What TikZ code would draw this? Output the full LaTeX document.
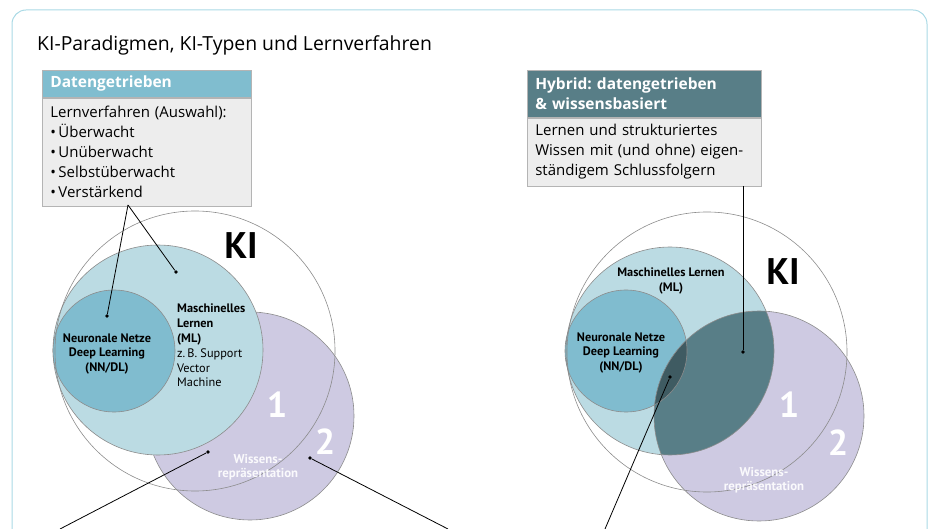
\documentclass[tikz,border=0pt]{standalone}
\usepackage{fontspec}
\setmainfont{Open Sans}
\newfontfamily\labelfont{PT Sans}
\usetikzlibrary{positioning}
\frenchspacing

\definecolor{framecol}{HTML}{A9D9E5}
\definecolor{ringgray}{HTML}{8C8C8C}
\definecolor{mlfill}{HTML}{BBDBE3}
\definecolor{nnfill}{HTML}{80BCCF}
\definecolor{wrfill}{HTML}{CECAE2}
\definecolor{headlight}{HTML}{80BDCF}
\definecolor{headdark}{HTML}{587E87}
\definecolor{hybdark}{HTML}{3F5B62}
\definecolor{bodyfill}{HTML}{EDEDED}
\definecolor{bodyline}{HTML}{B4B4B4}

\tikzset{
  boxhead/.style={rectangle, draw=bodyline, line width=0.6pt, text=white,
    font=\bfseries\fontsize{15.5}{20}\selectfont, text width=193pt,
    inner xsep=8pt, align=left},
  boxbody/.style={rectangle, draw=bodyline, line width=0.6pt, fill=bodyfill,
    font=\fontsize{15}{20}\selectfont, text width=193pt,
    inner xsep=8pt, align=left},
  ring/.style={draw=ringgray, line width=0.6pt},
  dot/.style={circle, fill=black, inner sep=0pt, minimum size=3.8pt},
  pointer/.style={black, line width=0.8pt},
  circlabel/.style={font=\labelfont\bfseries\fontsize{12.3}{14.8}\selectfont, align=center},
  bignum/.style={text=white, font=\labelfont\bfseries\fontsize{36}{36}\selectfont},
  kilabel/.style={font=\labelfont\bfseries\fontsize{37}{37}\selectfont},
  wrlabel/.style={text=white, text opacity=0.9, font=\labelfont\bfseries\fontsize{12.8}{14.5}\selectfont, align=center}
}

\begin{document}
\begin{tikzpicture}[x=1pt,y=-1pt]
  \useasboundingbox (0,0) rectangle (940,529);
  % frame and title
  \draw[framecol, line width=1pt, rounded corners=14pt] (12,10) rectangle (927,570);
  \node[anchor=west, font=\fontsize{19.4}{23}\selectfont, inner sep=0pt] (title) at (37,45) {KI-Paradigmen, KI-Typen und Lernverfahren};

  % left box
  \node[boxhead, fill=headlight, minimum height=27pt, anchor=north west] (lhead) at (42,70) {Datengetrieben};
  \node[boxbody, below=0pt of lhead, minimum height=108pt] (lbody)
    {Lernverfahren (Auswahl):\\ •\,Überwacht\\ •\,Unüberwacht\\ •\,Selbstüberwacht\\ •\,Verstärkend};

  % right box
  \node[boxhead, fill=headdark, minimum height=47pt, text width=218pt, anchor=north west] (rhead) at (527,70)
    {Hybrid: datengetrieben\\ \& wissensbasiert};
  \node[boxbody, below=0pt of rhead, minimum height=68pt, text width=218pt] (rbody)
    {Lernen und strukturiertes\\ Wissen mit (und ohne) eigen-\\ ständigem Schlussfolgern};

  % left circles
  \fill[wrfill] (250,416) circle (104pt);
  \draw[ring] (250,416) circle (104pt);
  \filldraw[ring, fill=mlfill] (158,350) circle (105pt);
  \filldraw[ring, fill=nnfill] (114,351) circle (61pt);
  \draw[ring] (195,351) circle (140pt);

  \node[kilabel] (lki) at (241,246) {KI};
  \node[circlabel] (lnn) at (107,354) {Neuronale Netze\\ Deep Learning\\ (NN/DL)};
  \node[circlabel, anchor=north west, align=left, inner sep=0pt] (lml) at (177,304)
    {Maschinelles\\ Lernen\\ (ML)\\ \mdseries z.\,B. Support\\ \mdseries Vector\\ \mdseries Machine};
  \node[bignum] (lone) at (277,405) {1};
  \node[bignum] (ltwo) at (325,442) {2};
  \node[wrlabel] (lwr) at (258,467) {Wissens-\\ repräsentation};

  % left pointers
  \node[dot] (ldotnn) at (107,316) {};
  \node[dot] (ldotml) at (176,272) {};
  \node[dot] (ldotki) at (208,452) {};
  \node[dot] (ldotwr) at (310,458) {};
  \coordinate (ljoin) at (128,205);
  \coordinate (lendki) at (60,529);
  \coordinate (lendwr) at (448,529);
  \draw[pointer] (ljoin) -- (ldotnn);
  \draw[pointer] (ljoin) -- (ldotml);
  \draw[pointer] (ldotki) -- (lendki);
  \draw[pointer] (ldotwr) -- (lendwr);

  % right circles
  \fill[wrfill] (759,416) circle (105pt);
  \fill[mlfill] (670,351) circle (104pt);
  \fill[nnfill] (626,351) circle (61pt);
  \begin{scope}
    \clip (759,416) circle (105pt);
    \fill[headdark] (670,351) circle (104pt);
    \fill[hybdark] (626,351) circle (61pt);
  \end{scope}
  \draw[ring] (759,416) circle (105pt);
  \draw[ring] (670,351) circle (104pt);
  \draw[ring] (626,351) circle (61pt);
  \draw[ring] (707,352) circle (140pt);

  \node[kilabel] (rki) at (783,272) {KI};
  \node[circlabel] (rml) at (671,281) {Maschinelles Lernen\\ (ML)};
  \node[circlabel] (rnn) at (621,353) {Neuronale Netze\\ Deep Learning\\ (NN/DL)};
  \node[bignum] (rone) at (789,405) {1};
  \node[bignum] (rtwo) at (838,443) {2};
  \node[wrlabel] (rwr) at (764,480) {Wissens-\\ repräsentation};

  % right pointers
  \node[dot] (rdothyb) at (743,352) {};
  \node[dot] (rdotnn) at (670,377) {};
  \coordinate (rendnn) at (605,529);
  \draw[pointer] (rdothyb) -- (rbody.south -| rdothyb);
  \draw[pointer] (rdotnn) -- (rendnn);
\end{tikzpicture}
\end{document}
